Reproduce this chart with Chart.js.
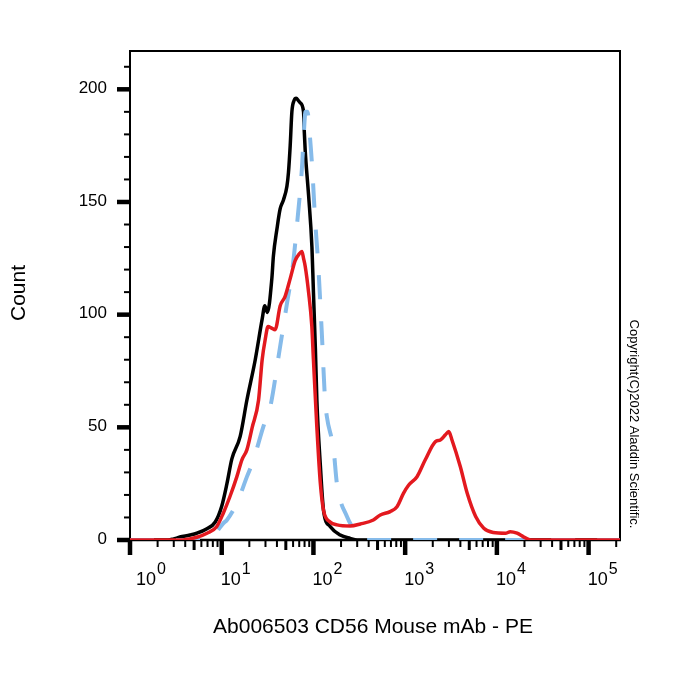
<!DOCTYPE html>
<html>
<head>
<meta charset="utf-8">
<script src="https://cdn.jsdelivr.net/npm/chart.js@4.4.0/dist/chart.umd.min.js"></script>
<style>
    html, body { margin: 0; padding: 0; background: #fff; }
    #contenedor { width: 700px; height: 700px; }
</style>
</head>
<body>
<div id="contenedor"><canvas id="graficoHistograma" width="700" height="700"></canvas></div>
<script>
// 1. Datos (intensidad PE -> cantidad de eventos)
const intensidadNegro = [1, 2.6, 2.95, 3.5, 4.5, 5.35, 6.9, 8.5, 10, 11.4, 12.9, 15.9, 18.8, 23.2, 27.6, 29.5, 31.5, 35.2, 36.6, 40, 43.4, 47.2, 51.4, 53.4, 55.8, 58.2, 61.5, 64.9, 68.5, 71.6, 78, 79.3, 81.3, 88.5, 96.3, 100, 105, 109, 119, 129, 152, 196, 252, 300, 220000];
const cuentaNegro = [0, 0, 0.4, 1.3, 2.2, 3, 5, 8, 15, 25, 36, 46, 62, 80, 98, 104, 101, 116, 126, 138, 147, 151, 157, 163, 175, 190, 195, 196, 195, 194, 190, 182, 173, 153, 130, 110, 85, 62, 33, 13, 6, 2.2, 0.7, 0, 0];

const intensidadAzul = [1, 6.5, 8.5, 10.4, 11.4, 14.6, 18.8, 22.2, 28.5, 33.8, 43, 51, 59.3, 67.3, 74.9, 78, 82, 86, 92, 96.3, 104.4, 113, 123, 134, 140, 166, 180, 232, 298, 352, 380, 220000];
const cuentaAzul = [0, 0, 3, 7.4, 8.9, 16.3, 28, 35.6, 50.4, 59, 85, 104, 121, 143, 165, 178, 190, 190, 178, 167, 142, 121.5, 93, 62, 54.8, 40, 25.2, 10.4, 3, 0.7, 0, 0];

const intensidadRojo = [1, 3.8, 4.2, 5.35, 6.9, 8.8, 10.4, 12.3, 14.6, 16.6, 18.8, 21.5, 25.2, 27.6, 29.8, 32, 35, 38.2, 43.4, 49, 55.8, 63.2, 70, 74.9, 78, 81.3, 88.5, 96, 100, 109, 119, 129, 152, 181, 252, 325, 450, 536, 687, 815, 958, 1094, 1347, 1657, 2141, 2420, 2749, 2990, 3240, 3990, 4750, 5870, 7200, 9130, 12400, 14000, 16600, 19500, 22200, 24000, 220000];
const cuentaRojo = [0, 0, 0.3, 1.2, 3, 5.9, 11.9, 19.3, 28, 35.6, 40, 50, 62, 80, 89, 94.7, 94, 93.3, 104, 108, 116, 124, 127, 128, 125, 121.5, 110, 95, 80, 50, 25, 13, 8, 6.7, 6.2, 7.1, 8.9, 11.1, 12.6, 14.8, 20.7, 24.4, 28.1, 35.6, 43.7, 44.4, 46.7, 48.1, 44.4, 32.6, 20.7, 10.4, 5.2, 3.3, 3, 3.7, 3, 1.4, 0.3, 0, 0];

// 2. Ejes: rangos y marcas
const rangoX = [1, 220000];
const rangoY = [0, 217];
const exponentesX = [0, 1, 2, 3, 4, 5];
const valoresY = [0, 50, 100, 150, 200];
const etiquetasY = ["0", "50", "100", "150", "200"];
const pasoMenorY = 10;

const tituloX = "Ab006503 CD56 Mouse mAb - PE";
const tituloY = "Count";
const copyright = "Copyright(C)2022 Aladdin Scientific.";

const FUENTE = "'Liberation Sans', Arial, sans-serif";

const aPuntos = (xs, ys) => xs.map((x, i) => ({ x, y: ys[i] }));

// 3. Plugin que dibuja el marco, las marcas y los textos
const ejesPlugin = {
    id: "ejesCitometria",
    beforeDatasetsDraw(chart) {
        const { ctx, chartArea: a, scales: { x, y } } = chart;
        ctx.save();
        ctx.strokeStyle = "#000";
        ctx.fillStyle = "#000";

        // marco
        ctx.lineWidth = 2;
        ctx.beginPath();
        ctx.moveTo(a.left, a.bottom);
        ctx.lineTo(a.left, a.top);
        ctx.lineTo(a.right, a.top);
        ctx.lineTo(a.right, a.bottom);
        ctx.stroke();
        ctx.lineWidth = 2.5;
        ctx.beginPath();
        ctx.moveTo(a.left - 1, a.bottom);
        ctx.lineTo(a.right + 1, a.bottom);
        ctx.stroke();

        // marcas eje Y
        for (let v = 0; v <= rangoY[1]; v += pasoMenorY) {
            const py = y.getPixelForValue(v);
            const mayor = valoresY.includes(v);
            ctx.lineWidth = mayor ? 4.5 : 2;
            ctx.beginPath();
            ctx.moveTo(a.left - (mayor ? 13 : 6), py);
            ctx.lineTo(a.left, py);
            ctx.stroke();
        }
        ctx.font = `17px ${FUENTE}`;
        ctx.textAlign = "right";
        ctx.textBaseline = "middle";
        valoresY.forEach((v, i) => {
            ctx.fillText(etiquetasY[i], 107, y.getPixelForValue(v) - 1);
        });

        // marcas eje X (décadas, 5 y resto)
        exponentesX.forEach(e => {
            for (let s = 1; s <= 9; s++) {
                const valor = s * Math.pow(10, e);
                if (valor < rangoX[0] || valor > rangoX[1]) continue;
                const px = x.getPixelForValue(valor);
                let largo = 7, ancho = 2;
                if (s === 1) { largo = 15; ancho = 4.5; }
                else if (s === 5) { largo = 10; ancho = 3; }
                ctx.lineWidth = ancho;
                ctx.beginPath();
                ctx.moveTo(px, a.bottom);
                ctx.lineTo(px, a.bottom + largo);
                ctx.stroke();
            }
        });

        // etiquetas 10^n
        ctx.textAlign = "left";
        ctx.textBaseline = "alphabetic";
        exponentesX.forEach((e, i) => {
            const px = x.getPixelForValue(Math.pow(10, e));
            ctx.font = `18px ${FUENTE}`;
            const anchoBase = ctx.measureText("10").width;
            ctx.font = `16px ${FUENTE}`;
            const anchoSup = ctx.measureText(String(e)).width;
            const centro = px + (i === 0 ? 21 : 14);
            const inicio = centro - (anchoBase + anchoSup + 1) / 2;
            ctx.font = `18px ${FUENTE}`;
            ctx.fillText("10", inicio, 585);
            ctx.font = `16px ${FUENTE}`;
            ctx.fillText(String(e), inicio + anchoBase + 1, 574);
        });

        // títulos
        ctx.font = `21px ${FUENTE}`;
        ctx.textAlign = "center";
        ctx.fillText(tituloX, 373, 633);

        ctx.save();
        ctx.translate(25, 293);
        ctx.rotate(-Math.PI / 2);
        ctx.fillText(tituloY, 0, 0);
        ctx.restore();

        ctx.save();
        ctx.font = `13px ${FUENTE}`;
        ctx.translate(630, 424);
        ctx.rotate(Math.PI / 2);
        ctx.fillText(copyright, 0, 0);
        ctx.restore();

        ctx.restore();
    }
};

// 4. Crear gráfico
const ctx = document.getElementById("graficoHistograma").getContext("2d");
new Chart(ctx, {
    type: "line",
    data: {
        datasets: [
            {
                label: "CD56 PE",
                data: aPuntos(intensidadRojo, cuentaRojo),
                borderColor: "#E3191F",
                borderWidth: 3.5,
                pointRadius: 0,
                tension: 0.3,
                cubicInterpolationMode: "monotone"
            },
            {
                label: "Control",
                data: aPuntos(intensidadAzul, cuentaAzul),
                borderColor: "#86BBEA",
                borderWidth: 4,
                borderDash: [24, 22],
                pointRadius: 0,
                tension: 0.3,
                cubicInterpolationMode: "monotone"
            },
            {
                label: "Sin teñir",
                data: aPuntos(intensidadNegro, cuentaNegro),
                borderColor: "#000000",
                borderWidth: 3.5,
                pointRadius: 0,
                tension: 0.3,
                cubicInterpolationMode: "monotone"
            }
        ]
    },
    options: {
        responsive: false,
        animation: false,
        devicePixelRatio: 1,
        layout: { padding: { left: 130, top: 51, right: 80, bottom: 160 } },
        plugins: {
            legend: { display: false },
            tooltip: { enabled: false }
        },
        scales: {
            x: { type: "logarithmic", min: rangoX[0], max: rangoX[1], display: false },
            y: { type: "linear", min: rangoY[0], max: rangoY[1], display: false }
        }
    },
    plugins: [ejesPlugin]
});
</script>
</body>
</html>
